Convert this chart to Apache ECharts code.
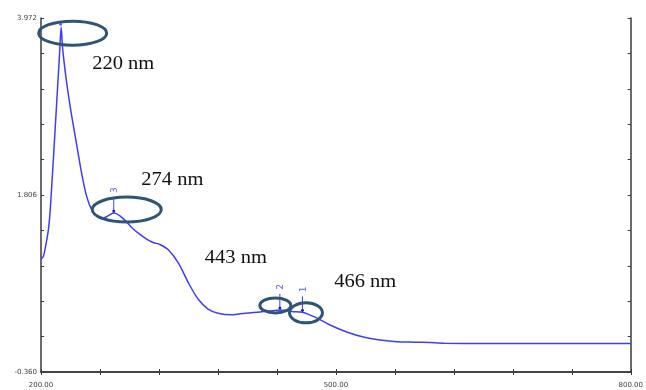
<!DOCTYPE html>
<html><head><meta charset="utf-8">
<script src="https://cdn.jsdelivr.net/npm/echarts@6/dist/echarts.min.js"></script>
<style>html,body{margin:0;padding:0;background:#fff}#c{width:646px;height:390px}</style>
</head><body><div id="c"></div>
<script>
const wavelengths = [200, 202.5, 205, 207.5, 209, 211, 213, 215, 217, 219, 220.5, 222, 224, 226, 228.5, 231, 234, 237, 240, 243, 246, 249.5, 253, 257, 262, 268, 274, 280, 286, 293, 300, 307, 314, 321, 330, 340, 350, 360, 370, 380, 394, 408, 423, 435, 443, 455, 466, 475, 481, 494, 511, 528, 545, 562, 580, 595, 610, 650, 700, 750, 800];
const absorbance = [1.02, 1.06, 1.20, 1.38, 1.56, 1.93, 2.33, 2.74, 3.15, 3.56, 3.86, 3.60, 3.38, 3.19, 2.98, 2.79, 2.58, 2.37, 2.16, 1.97, 1.81, 1.68, 1.60, 1.545, 1.515, 1.55, 1.585, 1.555, 1.49, 1.40, 1.33, 1.27, 1.225, 1.20, 1.13, 0.97, 0.73, 0.53, 0.41, 0.36, 0.34, 0.36, 0.375, 0.39, 0.40, 0.38, 0.37, 0.33, 0.30, 0.215, 0.13, 0.068, 0.032, 0.01, 0.005, 0.0, -0.008, -0.01, -0.01, -0.01, -0.01];
const xTickLabels = ['200.00', '', '', '', '', '500.00', '', '', '', '', '800.00'];
const yTickLabels = ['-0.360', '', '', '', '', '1.806', '', '', '', '', '3.972'];
const peakNm = [220, 274, 443, 466];
const peakAbs = [3.86, 1.585, 0.40, 0.37];
const peakLabels = ['220 nm', '274 nm', '443 nm', '466 nm'];
const markerNums = ['', '3', '2', '1'];

const chart = echarts.init(document.getElementById('c'), null, {renderer: 'canvas'});
const frame = {show: true, lineStyle: {color: '#3a3a3a', width: 1.5}};
const tick = {show: true, inside: true, length: 3, lineStyle: {color: '#3a3a3a', width: 1}};
const lab = {fontSize: 7, color: '#444', fontFamily: 'DejaVu Sans'};
chart.setOption({
  animation: false,
  backgroundColor: '#fff',
  grid: {left: 41, right: 10, top: 18, bottom: 18},
  xAxis: [
    {type: 'value', min: 200, max: 800, show: false},
    {type: 'value', min: 0, max: 10, interval: 1, position: 'bottom', axisLine: frame, axisTick: tick, splitLine: {show: false},
     axisLabel: Object.assign({margin: 10, formatter: v => xTickLabels[Math.round(v)]}, lab)},
    {type: 'value', min: 0, max: 10, interval: 1, position: 'top', axisLine: frame, axisTick: tick, splitLine: {show: false}, axisLabel: {show: false}}
  ],
  yAxis: [
    {type: 'value', min: -0.36, max: 3.972, show: false},
    {type: 'value', min: 0, max: 10, interval: 1, position: 'left', axisLine: frame, axisTick: tick, splitLine: {show: false},
     axisLabel: Object.assign({margin: 4, formatter: v => yTickLabels[Math.round(v)]}, lab)},
    {type: 'value', min: 0, max: 10, interval: 1, position: 'right', axisLine: frame, axisTick: tick, splitLine: {show: false}, axisLabel: {show: false}}
  ],
  series: [{
    type: 'line', xAxisIndex: 0, yAxisIndex: 0, showSymbol: false, smooth: 0.3,
    lineStyle: {color: '#3d3dff', width: 1.5},
    data: wavelengths.map((w, i) => [w, absorbance[i]])
  }]
});

const ellOff = [[12, 6, 34, 12], [13, -3.5, 34.5, 12.5], [-4.5, -4.5, 15.5, 7.5], [3.5, 0.5, 16.5, 10]];
const txtOff = [[31.5, 37], [27.5, -33], [-75, -52], [31.7, -30]];
const g = [];
peakNm.forEach((nm, i) => {
  const p = chart.convertToPixel({xAxisIndex: 0, yAxisIndex: 0}, [nm, peakAbs[i]]);
  const e = ellOff[i];
  if (markerNums[i]) {
    g.push({type: 'line', shape: {x1: p[0], y1: p[1] - 16, x2: p[0], y2: p[1]}, style: {stroke: '#3d3dff', lineWidth: 1}, z: 5});
    g.push({type: 'circle', shape: {cx: p[0], cy: p[1] - 2, r: 1.5}, style: {fill: '#2020d0'}, z: 5});
    g.push({type: 'text', x: p[0] + 1, y: p[1] - 23, rotation: Math.PI / 2,
      style: {text: markerNums[i], font: '9px "DejaVu Sans"', fill: '#6060ff', align: 'center', verticalAlign: 'middle'}, z: 5});
  } else {
    g.push({type: 'circle', shape: {cx: p[0], cy: p[1] - 3, r: 1.5}, style: {fill: '#6060ff'}, z: 5});
  }
  g.push({type: 'ellipse', shape: {cx: p[0] + e[0], cy: p[1] + e[1], rx: e[2], ry: e[3]},
    style: {fill: null, stroke: '#2f5576', lineWidth: 3}, z: 6});
  g.push({type: 'text', x: p[0] + txtOff[i][0], y: p[1] + txtOff[i][1], scaleX: 1.08,
    style: {text: peakLabels[i], font: '19px "Liberation Serif"', fill: '#111', align: 'left', verticalAlign: 'middle'}, z: 6});
});
chart.setOption({graphic: g});
</script></body></html>
